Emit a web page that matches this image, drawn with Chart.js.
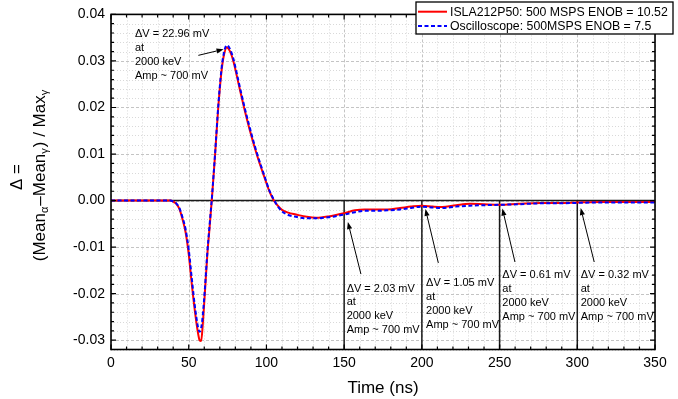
<!DOCTYPE html>
<html><head><meta charset="utf-8">
<script src="https://cdn.jsdelivr.net/npm/chart.js@4.4.1/dist/chart.umd.min.js"></script>
<style>html,body{margin:0;padding:0;background:#fff}#wrap{width:678px;height:399px;position:relative}</style>
</head><body><div id="wrap"><canvas id="c" width="678" height="399"></canvas></div>
<script>
// ---------- data ----------
const timeNs = [0,20,36,38,40,42,44,46,48,50,
  52,54,56,57,58,59,60.5,62,63.5,65,
  67,69,71,72.5,74.5,76.5,78.7,82,85.6,89,
  93.7,98.7,102,104.5,107,110,114,119,126,132,
  140,150,157,163,170,178,186,193,200,207,
  213,222,231,240,250,262,276,288,300,315,
  330,350];
const islaValues = [0,0,0,0,-0.0002,-0.0007,-0.0018,-0.0040,-0.0068,-0.0115,
  -0.0180,-0.0238,-0.0285,-0.0300,-0.0302,-0.0268,-0.0193,-0.0115,-0.0055,0.0008,
  0.0100,0.0200,0.0275,0.0310,0.0329,0.0321,0.0300,0.0252,0.0200,0.0155,
  0.0100,0.0050,0.0019,0.0002,-0.0010,-0.0020,-0.0026,-0.0030,-0.0035,-0.0037,
  -0.0034,-0.0027,-0.0021,-0.0019,-0.0019,-0.0019,-0.0016,-0.0013,-0.0011,-0.0013,
  -0.0014,-0.0010,-0.0007,-0.0008,-0.0009,-0.0007,-0.0005,-0.0005,-0.0004,-0.0003,
  -0.0003,-0.0003];
const scopeValues = [0,0,0,0,-0.0002,-0.0006,-0.0016,-0.0036,-0.0062,-0.0105,
  -0.0168,-0.0228,-0.0272,-0.0282,-0.0274,-0.0248,-0.0185,-0.0110,-0.0050,0.0010,
  0.0103,0.0203,0.0280,0.0315,0.0334,0.0326,0.0305,0.0257,0.0205,0.0160,
  0.0104,0.0053,0.0021,0.0004,-0.0011,-0.0023,-0.0031,-0.0035,-0.0038,-0.0038,
  -0.0036,-0.0030,-0.0025,-0.0022,-0.0022,-0.0021,-0.0019,-0.0016,-0.0013,-0.0015,
  -0.0016,-0.0013,-0.0011,-0.0010,-0.0009,-0.0008,-0.0006,-0.0006,-0.0005,-0.0004,
  -0.0004,-0.0004];
const seriesLabels = ['ISLA212P50: 500 MSPS ENOB = 10.52', 'Oscilloscope: 500MSPS ENOB = 7.5'];
const xTicks = [0,50,100,150,200,250,300,350];
const yTicks = [-0.03,-0.02,-0.01,0,0.01,0.02,0.03,0.04];
const markerTimes = [150,200,250,300];
const deltaVmV = ['22.96','2.03','1.05','0.61','0.32'];
const energyKeV = 2000;
const ampMV = 700;
const xTitle = 'Time (ns)';

// ---------- layout / style (not data) ----------
const FONT = '"Liberation Sans", Arial, sans-serif';
const annotationLayout = [
  {tx:15.4,  ty:0.0357,  ax0:56.2,  ay0:0.0312,  ax1:72.4,  ay1:0.0325},
  {tx:151.6, ty:-0.0189, ax0:160.8, ay0:-0.0158, ax1:152.4, ay1:-0.0046},
  {tx:202.7, ty:-0.0177, ax0:210.6, ay0:-0.0134, ax1:202.3, ay1:-0.0018},
  {tx:251.8, ty:-0.0160, ax0:259.9, ay0:-0.0132, ax1:251.8, ay1:-0.0017},
  {tx:302.2, ty:-0.0160, ax0:310.9, ay0:-0.0132, ax1:302.2, ay1:-0.0016}
];

function arrow(ctx, x0, y0, x1, y1) {
  const a = Math.atan2(y1 - y0, x1 - x0);
  const L = 7, W = 2.6;
  ctx.beginPath(); ctx.moveTo(x0, y0);
  ctx.lineTo(x1 - L * Math.cos(a), y1 - L * Math.sin(a)); ctx.stroke();
  ctx.beginPath(); ctx.moveTo(x1, y1);
  ctx.lineTo(x1 - L * Math.cos(a) - W * Math.sin(a), y1 - L * Math.sin(a) + W * Math.cos(a));
  ctx.lineTo(x1 - L * Math.cos(a) + W * Math.sin(a), y1 - L * Math.sin(a) - W * Math.cos(a));
  ctx.closePath(); ctx.fill();
}

const decor = {
  id: 'decor',
  beforeDatasetsDraw(chart) {
    const {ctx, chartArea: ca, scales: {x, y}} = chart;
    ctx.save();
    ctx.lineWidth = 1;
    // minor grid (dotted)
    ctx.strokeStyle = '#d9d9d9'; ctx.setLineDash([1, 2]);
    for (let t = 10; t < 350; t += 10) {
      if (t % 50 === 0) continue;
      const px = Math.round(x.getPixelForValue(t)) + 0.5;
      ctx.beginPath(); ctx.moveTo(px, ca.top); ctx.lineTo(px, ca.bottom); ctx.stroke();
    }
    for (let k = -16; k <= 20; k++) {
      if (k % 5 === 0) continue;
      const py = Math.round(y.getPixelForValue(k * 0.002)) + 0.5;
      ctx.beginPath(); ctx.moveTo(ca.left, py); ctx.lineTo(ca.right, py); ctx.stroke();
    }
    // major grid (dashed)
    ctx.strokeStyle = '#c4c4c4'; ctx.setLineDash([3, 2]);
    xTicks.forEach(t => {
      const px = Math.round(x.getPixelForValue(t)) + 0.5;
      ctx.beginPath(); ctx.moveTo(px, ca.top); ctx.lineTo(px, ca.bottom); ctx.stroke();
    });
    yTicks.forEach(v => {
      const py = Math.round(y.getPixelForValue(v)) + 0.5;
      ctx.beginPath(); ctx.moveTo(ca.left, py); ctx.lineTo(ca.right, py); ctx.stroke();
    });
    ctx.setLineDash([]);
    // zero line and marker lines
    ctx.strokeStyle = '#1a1a1a'; ctx.lineWidth = 1.5;
    const y0 = y.getPixelForValue(0);
    ctx.beginPath(); ctx.moveTo(ca.left, y0); ctx.lineTo(ca.right, y0); ctx.stroke();
    markerTimes.forEach(t => {
      const px = x.getPixelForValue(t);
      ctx.beginPath(); ctx.moveTo(px, y0); ctx.lineTo(px, ca.bottom); ctx.stroke();
    });
    ctx.restore();
  },
  afterDraw(chart) {
    const {ctx, chartArea: ca, scales: {x, y}} = chart;
    ctx.save();
    // frame
    ctx.strokeStyle = '#000'; ctx.lineWidth = 1.6;
    ctx.strokeRect(ca.left, ca.top, ca.right - ca.left, ca.bottom - ca.top);
    ctx.lineWidth = 1.2;
    for (let t = 0; t <= 350; t += 10) {
      const px = x.getPixelForValue(t);
      const L = t % 50 === 0 ? 5 : 3;
      ctx.beginPath();
      ctx.moveTo(px, ca.bottom); ctx.lineTo(px, ca.bottom - L);
      ctx.moveTo(px, ca.top); ctx.lineTo(px, ca.top + L);
      ctx.stroke();
    }
    for (let k = -16; k <= 20; k++) {
      const py = y.getPixelForValue(k * 0.002);
      const L = k % 5 === 0 ? 5 : 3;
      ctx.beginPath();
      ctx.moveTo(ca.left, py); ctx.lineTo(ca.left + L, py);
      ctx.moveTo(ca.right, py); ctx.lineTo(ca.right - L, py);
      ctx.stroke();
    }
    // annotations
    ctx.fillStyle = '#000'; ctx.strokeStyle = '#000'; ctx.lineWidth = 1;
    ctx.font = '11px ' + FONT; ctx.textAlign = 'left'; ctx.textBaseline = 'middle';
    annotationLayout.forEach((a, i) => {
      const lines = ['\u0394V = ' + deltaVmV[i] + ' mV', 'at', energyKeV + ' keV', 'Amp ~ ' + ampMV + ' mV'];
      const tx = x.getPixelForValue(a.tx), ty = y.getPixelForValue(a.ty);
      lines.forEach((s, j) => ctx.fillText(s, tx, ty + j * 13.9));
      arrow(ctx, x.getPixelForValue(a.ax0), y.getPixelForValue(a.ay0),
                 x.getPixelForValue(a.ax1), y.getPixelForValue(a.ay1));
    });
    // legend
    const lx = 416, ly = 2, lw = 257, lh = 32;
    ctx.fillStyle = '#fff'; ctx.fillRect(lx, ly, lw, lh);
    ctx.strokeStyle = '#000'; ctx.lineWidth = 1.3; ctx.strokeRect(lx, ly, lw, lh);
    const ds = chart.data.datasets;
    [0, 1].forEach(i => {
      const d = ds.find(dd => dd.label === seriesLabels[i]);
      const cy = ly + 9.7 + i * 14.3;
      ctx.strokeStyle = d.borderColor; ctx.lineWidth = 2;
      ctx.setLineDash(d.borderDash || []);
      ctx.beginPath(); ctx.moveTo(lx + 2, cy); ctx.lineTo(lx + 31, cy); ctx.stroke();
      ctx.setLineDash([]);
      ctx.fillStyle = '#000'; ctx.font = '12.3px ' + FONT; ctx.textBaseline = 'middle';
      ctx.fillText(seriesLabels[i], lx + 34, cy + 0.5);
    });
    // x title
    ctx.font = '17px ' + FONT; ctx.textAlign = 'center'; ctx.textBaseline = 'middle';
    ctx.fillText(xTitle, (ca.left + ca.right) / 2, 388);
    // y title
    ctx.save();
    ctx.translate(17, 177); ctx.rotate(-Math.PI / 2);
    ctx.fillText('\u0394 =', 0, 0);
    ctx.restore();
    const parts = [['(Mean', 0], ['\u03B1', 1], ['\u2013Mean', 0], ['\u03B3', 1], [') / Max', 0], ['\u03B3', 1]];
    const fMain = '17px ' + FONT, fSub = '11px ' + FONT;
    let total = 0;
    parts.forEach(p => { ctx.font = p[1] ? fSub : fMain; total += ctx.measureText(p[0]).width + (p[1] ? 1 : 0); });
    ctx.save();
    ctx.translate(40, 175); ctx.rotate(-Math.PI / 2);
    ctx.textAlign = 'left';
    let cx = -total / 2;
    parts.forEach(p => {
      ctx.font = p[1] ? fSub : fMain;
      ctx.fillText(p[0], cx, p[1] ? 5 : 0);
      cx += ctx.measureText(p[0]).width + (p[1] ? 1 : 0);
    });
    ctx.restore();
    ctx.restore();
  }
};

new Chart(document.getElementById('c'), {
  type: 'line',
  data: {
    datasets: [
      {label: seriesLabels[0], data: timeNs.map((t, i) => ({x: t, y: islaValues[i]})),
       borderColor: '#ff0000', borderWidth: 2, pointRadius: 0, cubicInterpolationMode: 'monotone', order: 1, fill: false},
      {label: seriesLabels[1], data: timeNs.map((t, i) => ({x: t, y: scopeValues[i]})),
       borderColor: '#0000ff', borderWidth: 2, borderDash: [4, 2.5], pointRadius: 0, cubicInterpolationMode: 'monotone', order: 0, fill: false}
    ]
  },
  options: {
    responsive: false, animation: false, devicePixelRatio: 1,
    layout: {padding: {top: 13, right: 23, left: 0, bottom: 0}},
    plugins: {legend: {display: false}, tooltip: {enabled: false}},
    scales: {
      x: {type: 'linear', min: 0, max: 350,
          grid: {display: false, drawTicks: false}, border: {display: false},
          afterBuildTicks: s => { s.ticks = xTicks.map(v => ({value: v})); },
          afterFit: s => { s.height = 399 - 349.5; },
          ticks: {color: '#000', font: {size: 14, family: FONT}, padding: 5, maxRotation: 0, autoSkip: false,
                  callback: v => String(v)}},
      y: {type: 'linear', min: -0.032, max: 0.04,
          grid: {display: false, drawTicks: false}, border: {display: false},
          afterBuildTicks: s => { s.ticks = yTicks.map(v => ({value: v})); },
          afterFit: s => { s.width = 111; },
          ticks: {color: '#000', font: {size: 14, family: FONT}, padding: 6, autoSkip: false,
                  callback: v => v.toFixed(2)}}
    }
  },
  plugins: [decor]
});
</script></body></html>
